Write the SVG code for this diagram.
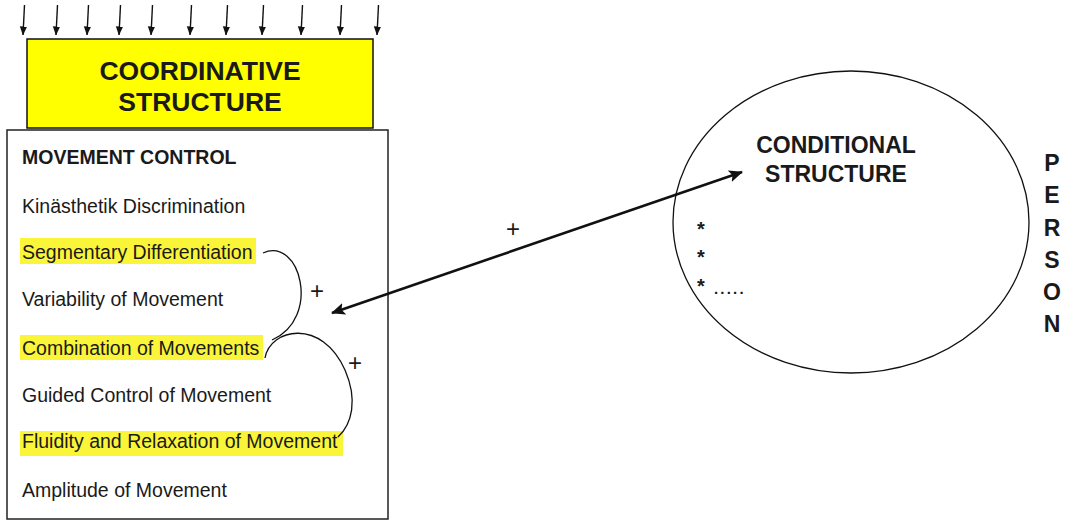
<svg xmlns="http://www.w3.org/2000/svg" width="1066" height="521" viewBox="0 0 1066 521">
<style>
.t{font-family:"Liberation Sans",Arial,sans-serif;fill:#1a1a1a}
.b{font-weight:bold}
.item{font-size:19.5px}
.hl{fill:#fbf53a}
.ln{fill:none;stroke:#111;stroke-width:1.3}
.ar{fill:none;stroke:#111;stroke-width:1.4}
.plus{font-size:24px;text-anchor:middle}
.star{font-size:20px;font-weight:bold}
</style>
<defs>
<marker id="sm" viewBox="0 0 10 8" refX="9.5" refY="4" markerWidth="9" markerHeight="8" markerUnits="userSpaceOnUse" orient="auto">
<path d="M0,0 L10,4 L0,8 z" fill="#111"/>
</marker>
<marker id="big" viewBox="0 0 14 12" refX="13" refY="6" markerWidth="14" markerHeight="12" markerUnits="userSpaceOnUse" orient="auto-start-reverse">
<path d="M0,0 L14,6 L0,12 L3,6 z" fill="#111"/>
</marker>
</defs>
<rect width="1066" height="521" fill="#fff"/>
<g id="input-arrows">
<line class="ar" x1="24.5" y1="5" x2="23" y2="35" marker-end="url(#sm)"/>
<line class="ar" x1="57.5" y1="5" x2="56" y2="35" marker-end="url(#sm)"/>
<line class="ar" x1="88.5" y1="5" x2="87" y2="35" marker-end="url(#sm)"/>
<line class="ar" x1="120.5" y1="5" x2="119" y2="35" marker-end="url(#sm)"/>
<line class="ar" x1="152.5" y1="5" x2="151" y2="35" marker-end="url(#sm)"/>
<line class="ar" x1="191.5" y1="5" x2="190" y2="35" marker-end="url(#sm)"/>
<line class="ar" x1="227.5" y1="5" x2="226" y2="35" marker-end="url(#sm)"/>
<line class="ar" x1="263.5" y1="5" x2="262" y2="35" marker-end="url(#sm)"/>
<line class="ar" x1="302.5" y1="5" x2="301" y2="35" marker-end="url(#sm)"/>
<line class="ar" x1="341.5" y1="5" x2="340" y2="35" marker-end="url(#sm)"/>
<line class="ar" x1="378.5" y1="5" x2="377" y2="35" marker-end="url(#sm)"/>
</g>
<g id="coordinative-structure">
<rect x="27" y="39" width="346" height="89" fill="#ffff00" stroke="#111" stroke-width="1.5"/>
<text class="t b" x="200" y="80" font-size="26.5" text-anchor="middle">COORDINATIVE</text>
<text class="t b" x="200" y="111" font-size="26.5" text-anchor="middle">STRUCTURE</text>
</g>
<g id="movement-control">
<rect x="7" y="130" width="381" height="389" fill="#fff" stroke="#222" stroke-width="1.5"/>
<rect class="hl" x="20" y="238" width="236" height="26"/>
<rect class="hl" x="20" y="335" width="243" height="25"/>
<rect class="hl" x="20" y="431" width="323" height="25"/>
<text class="t b" x="22" y="164" font-size="19.5">MOVEMENT CONTROL</text>
<text class="t item" x="22" y="213">Kinästhetik Discrimination</text>
<text class="t item" x="22" y="259">Segmentary Differentiation</text>
<text class="t item" x="22" y="306">Variability of Movement</text>
<text class="t item" x="22" y="355">Combination of Movements</text>
<text class="t item" x="22" y="402">Guided Control of Movement</text>
<text class="t item" x="22" y="448">Fluidity and Relaxation of Movement</text>
<text class="t item" x="22" y="497">Amplitude of Movement</text>
</g>
<g id="conditional-structure">
<ellipse cx="851" cy="222" rx="178" ry="151" fill="none" stroke="#111" stroke-width="1.3"/>
<text class="t b" x="836" y="153" font-size="23" text-anchor="middle">CONDITIONAL</text>
<text class="t b" x="836" y="182" font-size="23" text-anchor="middle">STRUCTURE</text>
<text class="t star" x="697" y="236">*</text>
<text class="t star" x="697" y="264">*</text>
<text class="t star" x="697" y="293">*</text>
<text class="t b" x="714" y="294" font-size="15" letter-spacing="2.2">.....</text>
</g>
<g id="person">
<text class="t b" x="1052" y="171" font-size="23" text-anchor="middle">P</text>
<text class="t b" x="1052" y="203" font-size="23" text-anchor="middle">E</text>
<text class="t b" x="1052" y="236" font-size="23" text-anchor="middle">R</text>
<text class="t b" x="1052" y="268" font-size="23" text-anchor="middle">S</text>
<text class="t b" x="1052" y="300" font-size="23" text-anchor="middle">O</text>
<text class="t b" x="1052" y="332" font-size="23" text-anchor="middle">N</text>
</g>
<g id="connectors">
<path class="ln" d="M263,253 C300,236 322,318 272,340"/>
<path class="ln" d="M265,358 C270,328 322,318 345,370 C358,400 352,424 338,437"/>
<text class="t plus" x="317" y="299">+</text>
<text class="t plus" x="355" y="371">+</text>
<line x1="332" y1="313" x2="742" y2="172" stroke="#111" stroke-width="2.6" marker-start="url(#big)" marker-end="url(#big)"/>
<text class="t plus" x="513" y="237">+</text>
</g>
</svg>
